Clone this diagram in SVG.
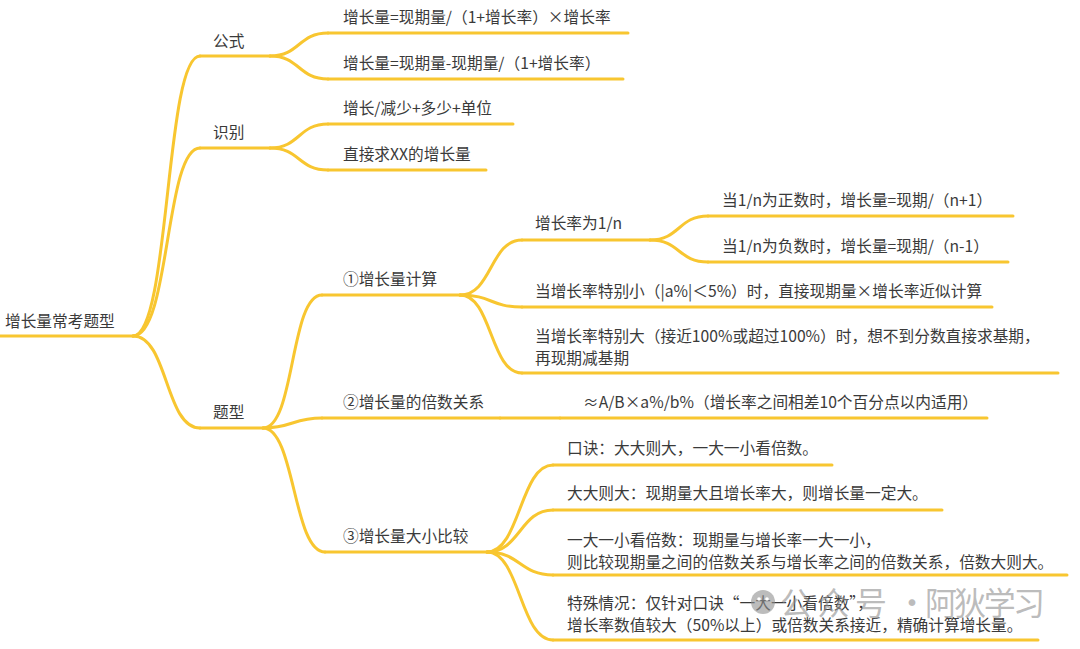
<svg xmlns="http://www.w3.org/2000/svg" width="1080" height="649" viewBox="0 0 1080 649">
<style>
text{font-family:"Noto Sans CJK SC","Noto Sans",sans-serif;font-size:15.7px;fill:#3a3a3a}
.ln{fill:none;stroke:#F8C630;stroke-width:3;stroke-linecap:round}
.wm{font-size:32px;fill:#8f8f8f;fill-opacity:0.6}
</style>
<rect width="1080" height="649" fill="#ffffff"/>
<g id="connectors" class="ln">
<path d="M133,336 C170,336 165,56 200,56"/>
<path d="M133,336 C170,336 165,148 200,148"/>
<path d="M133,336 C168,336 165,428 200,428"/>
<path d="M270,56 C300,56 298,33 328,33"/>
<path d="M270,56 C300,56 298,79 328,79"/>
<path d="M270,148 C300,148 298,124 328,124"/>
<path d="M270,148 C300,148 298,170 328,170"/>
<path d="M263,428 C295,428 290,295 322,295"/>
<path d="M263,428 C292,428 293,418 322,418"/>
<path d="M263,428 C295,428 293,552 325,552"/>
<path d="M460,295 C492,295 490,240 522,240"/>
<path d="M460,295 C492,295 490,307 522,307"/>
<path d="M460,295 C492,295 490,373 522,373"/>
<path d="M650,240 C680,240 678,216 708,216"/>
<path d="M650,240 C680,240 678,262 708,262"/>
<path d="M500,418 H560"/>
<path d="M487,552 C520,552 520,465 553,465"/>
<path d="M487,552 C520,552 520,510 553,510"/>
<path d="M487,552 C520,552 520,575 553,575"/>
<path d="M487,552 C520,552 520,640 553,640"/>
</g>
<g id="root"><text x="5" y="327">增长量常考题型</text><path class="ln" d="M0,336 H133"/></g>
<g id="gongshi"><text x="213" y="47">公式</text><path class="ln" d="M200,56 H270"/></g>
<g id="f1"><text x="343" y="23">增长量=现期量/（1+增长率）×增长率</text><path class="ln" d="M328,33 H628"/></g>
<g id="f2"><text x="343" y="69">增长量=现期量-现期量/（1+增长率）</text><path class="ln" d="M328,79 H623"/></g>
<g id="shibie"><text x="213" y="138">识别</text><path class="ln" d="M200,148 H270"/></g>
<g id="s1"><text x="343" y="114">增长/减少+多少+单位</text><path class="ln" d="M328,124 H513"/></g>
<g id="s2"><text x="343" y="160">直接求XX的增长量</text><path class="ln" d="M328,170 H486"/></g>
<g id="tixing"><text x="213" y="418">题型</text><path class="ln" d="M200,428 H263"/></g>
<g id="t1"><text x="343" y="285">①增长量计算</text><path class="ln" d="M322,295 H460"/></g>
<g id="t1a"><text x="535" y="229">增长率为1/n</text><path class="ln" d="M522,240 H650"/></g>
<g id="t1a1"><text x="722" y="206">当1/n为正数时，增长量=现期/（n+1）</text><path class="ln" d="M708,216 H1013"/></g>
<g id="t1a2"><text x="722" y="252">当1/n为负数时，增长量=现期/（n-1）</text><path class="ln" d="M708,262 H1008"/></g>
<g id="t1b"><text x="535" y="297">当增长率特别小（|a%|＜5%）时，直接现期量×增长率近似计算</text><path class="ln" d="M522,307 H992"/></g>
<g id="t1c"><text x="535" y="342">当增长率特别大（接近100%或超过100%）时，想不到分数直接求基期，</text><text x="535" y="364">再现期减基期</text><path class="ln" d="M522,373 H1058"/></g>
<g id="t2"><text x="343" y="408">②增长量的倍数关系</text><path class="ln" d="M322,418 H500"/></g>
<g id="t2a"><text x="583" y="408">≈A/B×a%/b%（增长率之间相差10个百分点以内适用）</text><path class="ln" d="M560,418 H987"/></g>
<g id="t3"><text x="343" y="542">③增长量大小比较</text><path class="ln" d="M325,552 H487"/></g>
<g id="t3a"><text x="567" y="454">口诀：大大则大，一大一小看倍数。</text><path class="ln" d="M553,465 H832"/></g>
<g id="t3b"><text x="567" y="499">大大则大：现期量大且增长率大，则增长量一定大。</text><path class="ln" d="M553,510 H942"/></g>
<g id="t3c"><text x="567" y="546">一大一小看倍数：现期量与增长率一大一小，</text><text x="567" y="568">则比较现期量之间的倍数关系与增长率之间的倍数关系，倍数大则大。</text><path class="ln" d="M553,575 H1067"/></g>
<g id="t3d"><text x="567" y="609">特殊情况：仅针对口诀“一大一小看倍数”，</text><text x="567" y="631">增长率数值较大（50%以上）或倍数关系接近，精确计算增长量。</text><path class="ln" d="M553,640 H1038"/></g>
<g id="watermark">
<circle cx="763" cy="602" r="12" fill="#8f8f8f" fill-opacity="0.6"/>
<circle cx="759" cy="599" r="1.8" fill="#fff"/>
<circle cx="767" cy="599" r="1.8" fill="#fff"/>
<text class="wm" x="780" y="615" textLength="107">公众号</text>
<text class="wm" x="896" y="615">·</text>
<text class="wm" x="925" y="615" textLength="120">阿狄学习</text>
</g>
</svg>
